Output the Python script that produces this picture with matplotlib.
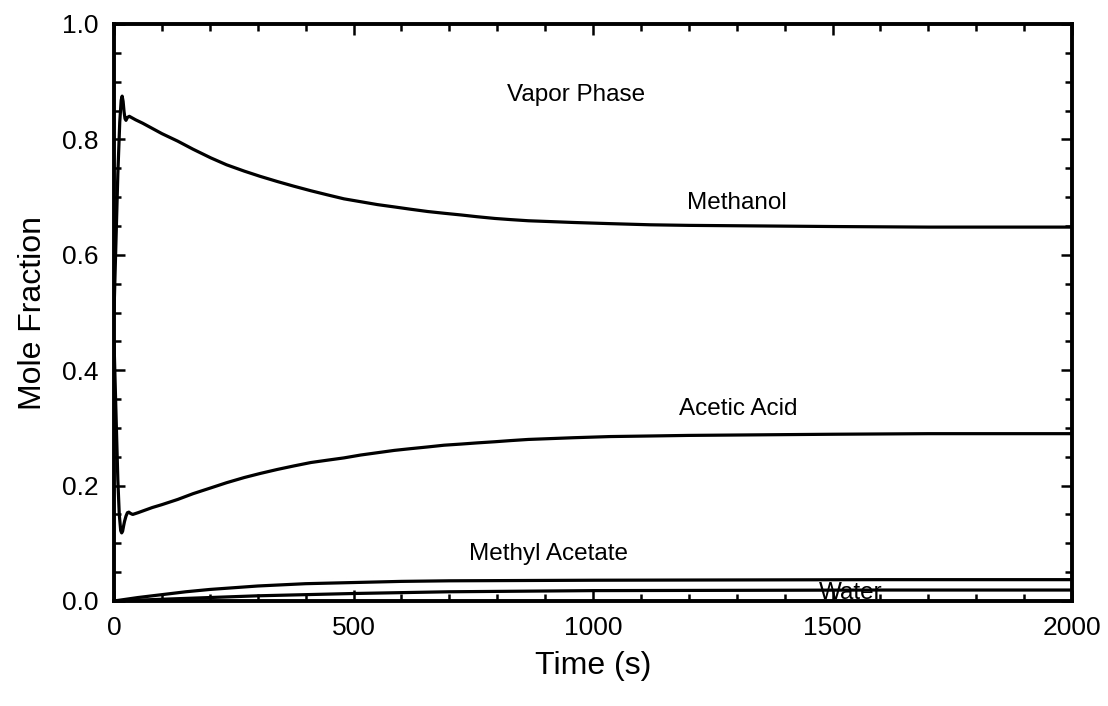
import matplotlib
matplotlib.use("Agg")
import matplotlib.pyplot as plt
from matplotlib.ticker import MultipleLocator, FormatStrFormatter

plt.rcParams['font.family'] = ['Liberation Sans', 'DejaVu Sans']

# Vapor-phase mole fractions vs. time
t_methanol = [0, 4, 8, 12, 15, 17, 19, 21, 23, 25, 28, 32, 45, 60, 80, 100, 133,
              165, 202, 235, 272, 305, 341, 375, 411, 445, 480, 515, 550, 585, 619,
              655, 689, 725, 758, 795, 828, 865, 897, 960, 1036, 1120, 1200, 1350,
              1500, 1700, 2000]
y_methanol = [0.50, 0.62, 0.74, 0.83, 0.868, 0.875, 0.866, 0.848, 0.836, 0.833,
              0.838, 0.840, 0.834, 0.828, 0.819, 0.810, 0.797, 0.783, 0.768, 0.756,
              0.745, 0.736, 0.727, 0.719, 0.711, 0.704, 0.697, 0.692, 0.687, 0.683,
              0.679, 0.675, 0.672, 0.669, 0.666, 0.663, 0.661, 0.659, 0.658, 0.656,
              0.654, 0.652, 0.651, 0.650, 0.649, 0.648, 0.648]

t_acetic = [0, 4, 8, 11, 14, 16, 18, 20, 22, 25, 28, 31, 34, 39, 50, 60, 80, 100,
            133, 165, 202, 235, 272, 305, 341, 375, 411, 445, 480, 515, 550, 585,
            619, 655, 689, 725, 758, 795, 828, 865, 897, 960, 1036, 1120, 1200,
            1350, 1500, 1700, 2000]
y_acetic = [0.45, 0.33, 0.21, 0.15, 0.122, 0.118, 0.121, 0.130, 0.138, 0.147,
            0.153, 0.154, 0.152, 0.150, 0.153, 0.156, 0.162, 0.167, 0.176, 0.186,
            0.196, 0.205, 0.214, 0.221, 0.228, 0.234, 0.240, 0.244, 0.248, 0.253,
            0.257, 0.261, 0.264, 0.267, 0.270, 0.272, 0.274, 0.276, 0.278, 0.280,
            0.281, 0.283, 0.285, 0.286, 0.287, 0.288, 0.289, 0.290, 0.290]

t_meac = [0, 50, 100, 150, 200, 250, 300, 350, 400, 450, 500, 600, 700, 850, 1000,
          1300, 1600, 2000]
y_meac = [0.0, 0.006, 0.011, 0.016, 0.020, 0.023, 0.026, 0.028, 0.030, 0.031,
          0.032, 0.034, 0.035, 0.0355, 0.036, 0.0365, 0.037, 0.037]

t_water = [0, 50, 100, 150, 200, 250, 300, 350, 400, 450, 500, 600, 700, 850, 1000,
           1300, 1600, 2000]
y_water = [0.0, 0.0015, 0.003, 0.0045, 0.006, 0.0075, 0.009, 0.010, 0.011, 0.012,
           0.013, 0.0145, 0.016, 0.017, 0.018, 0.0185, 0.019, 0.019]

labels = ["Vapor Phase", "Methanol", "Acetic Acid", "Methyl Acetate", "Water"]
label_pos = [(965, 0.877), (1300, 0.690), (1303, 0.333), (907, 0.081), (1539, 0.014)]

fig = plt.figure(figsize=(11.08, 7.06), dpi=100)
ax = fig.add_axes([114 / 1108, 1 - 601 / 706, (1072 - 114) / 1108, (601 - 24) / 706])

lw = 2.3
for tx, ty in [(t_methanol, y_methanol), (t_acetic, y_acetic),
               (t_meac, y_meac), (t_water, y_water)]:
    ax.plot(tx, ty, color='black', lw=lw, solid_joinstyle='round',
            solid_capstyle='round')

for txt, (x, y) in zip(labels, label_pos):
    ax.text(x, y, txt, ha='center', va='center', fontsize=17.5)

ax.set_xlim(0, 2000)
ax.set_ylim(0, 1.0)
ax.xaxis.set_major_locator(MultipleLocator(500))
ax.xaxis.set_minor_locator(MultipleLocator(100))
ax.yaxis.set_major_locator(MultipleLocator(0.2))
ax.yaxis.set_minor_locator(MultipleLocator(0.05))
ax.yaxis.set_major_formatter(FormatStrFormatter('%.1f'))

ax.tick_params(which='both', direction='in', top=True, right=True, width=1.8)
ax.tick_params(which='major', length=8)
ax.tick_params(which='minor', length=5)
ax.tick_params(axis='x', which='major', labelsize=19, pad=11)
ax.tick_params(axis='y', which='major', labelsize=19, pad=11)
for s in ax.spines.values():
    s.set_linewidth(2.8)

ax.set_xlabel("Time (s)", fontsize=23, labelpad=8)
ax.set_ylabel("Mole Fraction", fontsize=23, labelpad=10)

fig.savefig("out.png", dpi=100)
